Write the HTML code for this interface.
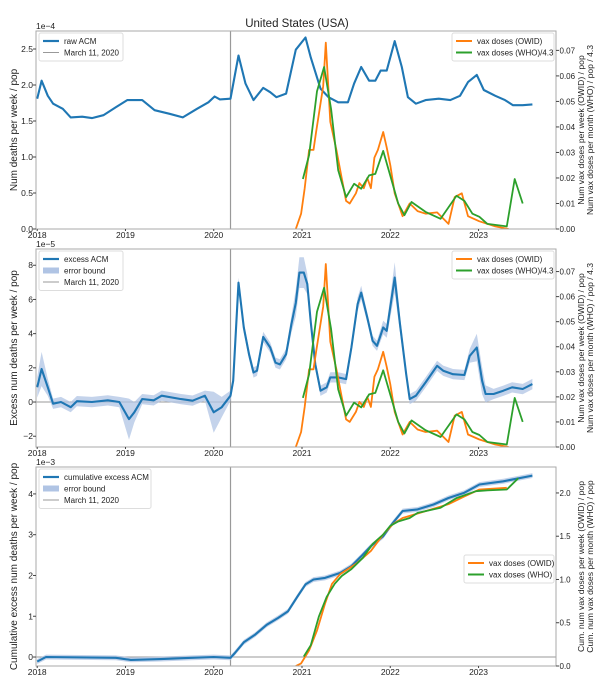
<!DOCTYPE html>
<html><head><meta charset="utf-8"><style>
html,body{margin:0;padding:0;background:#fff;}
svg{display:block;font-family:"Liberation Sans","DejaVu Sans",sans-serif;}
</style></head><body>
<svg id="chart" width="607" height="698" viewBox="0 0 607 698" xmlns="http://www.w3.org/2000/svg">
<text x="297" y="27" font-size="11.5" text-anchor="middle" fill="#222">United States (USA)</text>
</svg>
<script>
// ---- Data ----
const yearTicks = [2018, 2019, 2020, 2021, 2022, 2023];
const marchDate = 2020.19;
// Panel 1: raw ACM (1e-4)
const rawT = [2018.0,2018.05,2018.12,2018.18,2018.29,2018.38,2018.51,2018.62,2018.75,2018.89,2019.02,2019.19,2019.33,2019.5,2019.65,2019.81,2019.94,2020.01,2020.07,2020.19,2020.28,2020.36,2020.45,2020.56,2020.64,2020.71,2020.82,2020.93,2021.04,2021.1,2021.21,2021.3,2021.41,2021.52,2021.59,2021.67,2021.76,2021.83,2021.89,2021.96,2022.05,2022.13,2022.2,2022.29,2022.4,2022.55,2022.68,2022.79,2022.88,2022.98,2023.06,2023.19,2023.3,2023.39,2023.5,2023.61];
const rawV = [1.81,2.06,1.85,1.74,1.67,1.55,1.56,1.54,1.58,1.69,1.79,1.79,1.65,1.60,1.55,1.67,1.76,1.84,1.80,1.81,2.41,2.02,1.79,1.96,1.90,1.83,1.88,2.49,2.66,2.38,1.95,1.83,1.76,1.76,2.02,2.25,2.06,2.06,2.20,2.20,2.61,2.25,1.83,1.74,1.79,1.81,1.79,1.85,2.04,2.14,1.93,1.85,1.79,1.72,1.72,1.73];
// Weekly OWID doses / pop
const owidT = [2020.93,2020.99,2021.03,2021.08,2021.13,2021.16,2021.24,2021.27,2021.32,2021.39,2021.45,2021.5,2021.54,2021.61,2021.65,2021.7,2021.74,2021.78,2021.82,2021.86,2021.92,2021.96,2022.0,2022.05,2022.14,2022.22,2022.31,2022.4,2022.53,2022.66,2022.73,2022.81,2022.88,2023.01,2023.19,2023.34];
const owidV = [0,0.006,0.016,0.031,0.031,0.038,0.056,0.073,0.042,0.031,0.020,0.011,0.010,0.014,0.018,0.016,0.020,0.016,0.028,0.031,0.038,0.032,0.025,0.014,0.005,0.010,0.007,0.006,0.0065,0.002,0.0125,0.014,0.005,0.003,0.001,0];
// Monthly WHO doses / pop / 4.3
const whoT = [2021.01,2021.08,2021.17,2021.25,2021.33,2021.41,2021.5,2021.59,2021.67,2021.76,2021.83,2021.92,2022.09,2022.16,2022.24,2022.4,2022.57,2022.75,2022.84,2022.93,2023.01,2023.1,2023.32,2023.41,2023.5];
const whoV = [0.0196,0.029,0.054,0.0635,0.047,0.023,0.0125,0.0177,0.0158,0.021,0.0216,0.0306,0.010,0.0054,0.0106,0.0067,0.004,0.013,0.011,0.006,0.0048,0.002,0.001,0.0196,0.010];
// Panel 2: excess ACM (1e-5)
const excT = [2018.0,2018.05,2018.12,2018.18,2018.27,2018.38,2018.45,2018.62,2018.8,2018.93,2019.04,2019.1,2019.19,2019.32,2019.41,2019.63,2019.76,2019.9,2020.0,2020.09,2020.19,2020.22,2020.28,2020.34,2020.4,2020.45,2020.49,2020.56,2020.64,2020.7,2020.75,2020.82,2020.88,2020.93,2020.97,2021.02,2021.06,2021.1,2021.15,2021.21,2021.28,2021.32,2021.41,2021.5,2021.56,2021.63,2021.67,2021.74,2021.8,2021.85,2021.92,2021.96,2022.05,2022.11,2022.18,2022.22,2022.29,2022.4,2022.53,2022.6,2022.71,2022.84,2022.9,2022.98,2023.04,2023.08,2023.17,2023.28,2023.38,2023.5,2023.61];
const excV = [0.86,1.93,0.86,-0.1,0,-0.3,0.05,0,0.1,0,-1.0,-0.6,0.17,0.1,0.37,0.17,0.08,0.37,-0.6,-0.3,0.37,1.25,6.98,4.36,2.8,1.73,1.83,3.81,3.19,2.3,2.2,2.8,4.55,5.8,7.57,7.57,6.9,4.65,2.2,0.66,0.86,1.44,1.44,1.34,3.19,5.72,6.4,4.94,3.58,3.29,4.36,4.16,7.28,4.55,1.63,0.17,0.37,1.15,2.12,1.83,1.63,1.58,2.7,3.19,1.25,0.47,0.47,0.66,0.86,0.76,1.05];
const excErr = [0.6,1.0,0.5,0.3,0.3,0.3,0.3,0.3,0.3,0.3,1.2,0.6,0.3,0.3,0.3,0.3,0.3,0.3,1.2,0.6,0.3,0.3,0.3,0.3,0.3,0.3,0.3,0.3,0.3,0.3,0.3,0.3,0.5,0.8,0.9,0.9,0.6,0.4,0.3,0.3,0.3,0.3,0.3,0.3,0.3,0.4,0.4,0.3,0.3,0.3,0.4,0.4,0.9,0.5,0.3,0.3,0.3,0.3,0.3,0.3,0.3,0.3,0.4,0.8,0.8,0.5,0.3,0.3,0.3,0.3,0.3];
// Panel 3: cumulative excess (1e-3)
const cumT = [2018.0,2018.1,2018.89,2019.06,2019.4,2019.75,2020.0,2020.19,2020.24,2020.34,2020.47,2020.6,2020.73,2020.84,2020.95,2021.04,2021.13,2021.26,2021.43,2021.56,2021.67,2021.78,2021.92,2022.03,2022.14,2022.31,2022.49,2022.66,2022.84,2023.01,2023.28,2023.61];
const cumV = [-0.11,0,-0.02,-0.07,-0.05,-0.02,0,-0.02,0.1,0.36,0.55,0.79,0.96,1.12,1.49,1.78,1.9,1.94,2.06,2.23,2.47,2.72,2.96,3.29,3.58,3.62,3.74,3.9,4.03,4.23,4.31,4.45];
const cumOwidT = [2020.93,2020.99,2021.08,2021.17,2021.26,2021.34,2021.43,2021.61,2021.78,2021.92,2022.03,2022.14,2022.4,2022.66,2022.84,2023.01,2023.32];
const cumOwidV = [0,0.03,0.18,0.41,0.72,0.95,1.06,1.18,1.33,1.52,1.64,1.71,1.79,1.87,1.96,2.04,2.06];
const cumWhoT = [2021.02,2021.1,2021.19,2021.28,2021.37,2021.45,2021.56,2021.69,2021.8,2021.92,2022.0,2022.09,2022.22,2022.31,2022.57,2022.75,2022.97,2023.1,2023.32,2023.45];
const cumWhoV = [0.11,0.24,0.57,0.8,0.95,1.04,1.12,1.25,1.41,1.52,1.62,1.67,1.71,1.77,1.83,1.94,2.02,2.03,2.04,2.17];
const p1LeftTicks = [0,0.5,1.0,1.5,2.0,2.5];
const p1RightTicks = [0,0.01,0.02,0.03,0.04,0.05,0.06,0.07];
const p2LeftTicks = [-2,0,2,4,6,8];
const p3LeftTicks = [0,1,2,3,4];
const p3RightTicks = [0,0.5,1.0,1.5,2.0];

// ---- Drawing ----
const NS = "http://www.w3.org/2000/svg";
const svg = document.getElementById('chart');
const X0 = 36, X1 = 556;
function xS(t){ return 37.2 + (t - 2018) * 88.27; }
function mk(tag, attrs, parent){
  const e = document.createElementNS(NS, tag);
  for (const k in attrs) e.setAttribute(k, attrs[k]);
  (parent || svg).appendChild(e);
  return e;
}
function linScale(d0, d1, r0, r1){ return v => r0 + (v - d0) / (d1 - d0) * (r1 - r0); }
function pathD(ts, vs, ys){
  return ts.map((t,i)=> (i?'L':'M') + xS(t).toFixed(1) + ',' + ys(vs[i]).toFixed(1)).join(' ');
}
function bandD(ts, lo, hi, ys){
  let d = ts.map((t,i)=> (i?'L':'M') + xS(t).toFixed(1) + ',' + ys(hi[i]).toFixed(1)).join(' ');
  for (let i = ts.length-1; i >= 0; i--) d += ' L' + xS(ts[i]).toFixed(1) + ',' + ys(lo[i]).toFixed(1);
  return d + ' Z';
}
function fmt(v, dec){ return (v < 0 ? '\u2212' : '') + Math.abs(v).toFixed(dec); }

function panel(o){
  const g = mk('g', {});
  
  
  const yL = linScale(o.lmin, o.lmax, o.bot, o.top);
  const yR = linScale(0, o.rmax, o.bot, o.top);
  const clip = mk('clipPath', {id: 'clip-' + o.name}, g);
  mk('rect', {x: X0, y: o.top, width: X1-X0, height: o.bot-o.top}, clip);
  const inner = mk('g', {'clip-path': 'url(#clip-' + o.name + ')'}, g);
  const ml = mk('line', {x1: xS(marchDate), x2: xS(marchDate), y1: o.top, y2: o.bot, stroke: '#999', 'stroke-width': 1.2}, inner);
  
  
  if (o.zeroLine){
    const zl = mk('line', {x1: X0, x2: X1, y1: yL(0), y2: yL(0), stroke: '#999', 'stroke-width': 1}, inner);
    
    
  }
  if (o.band){
    const b = mk('path', {d: bandD(o.mainT, o.band.lo, o.band.hi, yL), fill: '#b0c4e4', opacity: 0.75}, inner);
    
    
  }
  const m = mk('path', {d: pathD(o.mainT, o.mainV, yL), fill: 'none', stroke: '#1f77b4', 'stroke-width': 2.1, 'stroke-linejoin': 'round'}, inner);
  
  
  const ow = mk('path', {d: pathD(o.owT, o.owV, yR), fill: 'none', stroke: '#ff7f0e', 'stroke-width': 1.8, 'stroke-linejoin': 'round'}, inner);
  
  
  const wh = mk('path', {d: pathD(o.whT, o.whV, yR), fill: 'none', stroke: '#2ca02c', 'stroke-width': 1.8, 'stroke-linejoin': 'round'}, inner);
  
  
  const fr = mk('rect', {x: X0, y: o.top, width: X1-X0, height: o.bot-o.top, fill: 'none', stroke: '#aaa', 'stroke-width': 1}, g);
  
  
  yearTicks.forEach(t => {
    mk('line', {x1: xS(t), x2: xS(t), y1: o.bot, y2: o.bot+2, stroke: '#444'}, g);
    const tk = mk('text', {x: xS(t), y: o.bot + 9, 'font-size': 8.5, 'text-anchor': 'middle', fill: '#222'}, g);
    tk.textContent = t;
    
    
  });
  o.lTicks.forEach(v => {
    mk('line', {x1: X0-3, x2: X0, y1: yL(v), y2: yL(v), stroke: '#444'}, g);
    const tk = mk('text', {x: X0-3, y: yL(v)+3, 'font-size': 8.5, 'text-anchor': 'end', fill: '#222'}, g);
    tk.textContent = fmt(v, o.lDec);
    
    
  });
  o.rTicks.forEach(v => {
    mk('line', {x1: X1, x2: X1+3, y1: yR(v), y2: yR(v), stroke: '#444'}, g);
    const tk = mk('text', {x: X1+3.5, y: yR(v)+3, 'font-size': 8, fill: '#222'}, g);
    tk.textContent = v.toFixed(o.rDec);
    
    
  });
  const off = mk('text', {x: X0, y: o.top - 2, 'font-size': 8.5, fill: '#222'}, g);
  off.textContent = o.offset;
  
  
  const mid = (o.top + o.bot) / 2;
  const yl = mk('text', {x: 17, y: mid, 'font-size': 10, 'text-anchor': 'middle', fill: '#222', transform: 'rotate(-90 17 ' + mid + ')'}, g);
  yl.textContent = o.yLabel;
  
  
  o.rLabel.forEach((s, i) => {
    const xx = 584 + i * 9;
    const rl = mk('text', {x: xx, y: mid, 'font-size': 8.6, 'text-anchor': 'middle', fill: '#222', transform: 'rotate(-90 ' + xx + ' ' + mid + ')'}, g);
    rl.textContent = s;
    
    
  });
  o.legends.forEach(L => {
    const lg = mk('g', {}, g);
    
    
    mk('rect', {x: L.x, y: L.y, width: L.w, height: L.items.length*11.5+5, fill: '#fff', 'fill-opacity': 0.85, stroke: '#ddd', rx: 2}, lg);
    L.items.forEach((it, i) => {
      const cy = L.y + 8 + i*11.5;
      if (it.type === 'band') mk('rect', {x: L.x+4, y: cy-3, width: 16, height: 6, fill: '#b0c4e4'}, lg);
      else mk('line', {x1: L.x+4, x2: L.x+20, y1: cy, y2: cy, stroke: it.color, 'stroke-width': it.w}, lg);
      const tx = mk('text', {x: L.x+25, y: cy+3, 'font-size': 8, fill: '#222'}, lg);
      tx.textContent = it.label;
      
      
    });
  });
}

const legMain = (lbl, band) => {
  const a = [{label: lbl, color: '#1f77b4', w: 2.2}];
  if (band) a.push({label: 'error bound', type: 'band'});
  a.push({label: 'March 11, 2020', color: '#999', w: 1});
  return a;
};
const legVax = (who) => [{label: 'vax doses (OWID)', color: '#ff7f0e', w: 2},{label: who, color: '#2ca02c', w: 2}];

panel({name: 'raw-acm-panel', top: 31, bot: 229, lmin: 0, lmax: 2.75, rmax: 0.0776,
  mainT: rawT, mainV: rawV, mainName: 'raw-acm-line', owT: owidT, owV: owidV, whT: whoT, whV: whoV,
  lTicks: p1LeftTicks, lDec: 1, rTicks: p1RightTicks, rDec: 2, offset: '1e\u22124',
  yLabel: 'Num deaths per week / pop',
  rLabel: ['Num vax doses per week (OWID) / pop', 'Num vax doses per month (WHO) / pop / 4.3'],
  legends: [{x: 39, y: 33, w: 84, items: legMain('raw ACM', false)}, {x: 452, y: 33, w: 102, items: legVax('vax doses (WHO)/4.3')}]});

panel({name: 'excess-acm-panel', top: 249, bot: 447, lmin: -2.63, lmax: 8.95, rmax: 0.079, zeroLine: true,
  mainT: excT, mainV: excV, mainName: 'excess-acm-line',
  band: {lo: excV.map((v,i)=>v-excErr[i]), hi: excV.map((v,i)=>v+excErr[i])},
  owT: owidT, owV: owidV, whT: whoT, whV: whoV,
  lTicks: p2LeftTicks, lDec: 0, rTicks: p1RightTicks, rDec: 2, offset: '1e\u22125',
  yLabel: 'Excess num deaths per week / pop',
  rLabel: ['Num vax doses per week (OWID) / pop', 'Num vax doses per month (WHO) / pop / 4.3'],
  legends: [{x: 39, y: 251, w: 84, items: legMain('excess ACM', true)}, {x: 452, y: 251, w: 102, items: legVax('vax doses (WHO)/4.3')}]});

panel({name: 'cumulative-excess-panel', top: 467, bot: 666, lmin: -0.22, lmax: 4.66, rmax: 2.30, zeroLine: true,
  mainT: cumT, mainV: cumV, mainName: 'cumulative-excess-line',
  band: {lo: cumV.map(v=>v-0.06), hi: cumV.map(v=>v+0.06)},
  owT: cumOwidT, owV: cumOwidV, whT: cumWhoT, whV: cumWhoV,
  lTicks: p3LeftTicks, lDec: 0, rTicks: p3RightTicks, rDec: 1, offset: '1e\u22123',
  yLabel: 'Cumulative excess num deaths per week / pop',
  rLabel: ['Cum. num vax doses per week (OWID) / pop', 'Cum. num vax doses per month (WHO) / pop'],
  legends: [{x: 39, y: 469, w: 112, items: legMain('cumulative excess ACM', true)}, {x: 464, y: 555, w: 90, items: legVax('vax doses (WHO)')}]});
</script>
</body></html>
